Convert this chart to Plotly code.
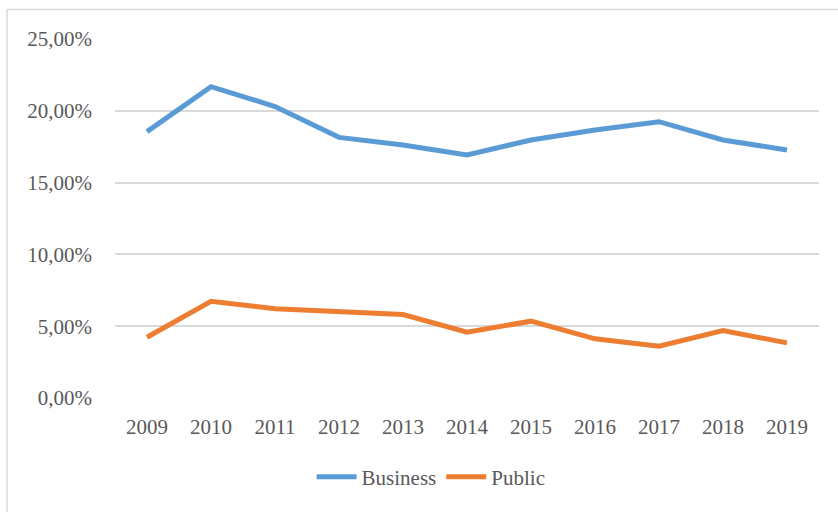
import plotly.graph_objects as go

years = ["2009", "2010", "2011", "2012", "2013", "2014", "2015", "2016", "2017", "2018", "2019"]
business = [18.55, 21.68, 20.30, 18.15, 17.62, 16.92, 17.97, 18.66, 19.24, 17.97, 17.27]
public = [4.23, 6.74, 6.21, 5.97, 5.81, 4.58, 5.35, 4.12, 3.61, 4.70, 3.84]
y_ticks = [0, 5, 10, 15, 20, 25]
y_tick_labels = ["0,00%", "5,00%", "10,00%", "15,00%", "20,00%", "25,00%"]

FONT = "Liberation Serif"
TXT = "#595959"
GRID = "#d9d9d9"

fig = go.Figure()
fig.add_trace(go.Scatter(x=years, y=business, name="Business", mode="lines",
                         line=dict(color="#5B9BD5", width=5)))
fig.add_trace(go.Scatter(x=years, y=public, name="Public", mode="lines",
                         line=dict(color="#ED7D31", width=5)))

fig.update_layout(
    width=838, height=512,
    margin=dict(l=115, r=19, t=39, b=114),
    paper_bgcolor="white", plot_bgcolor="white",
    font=dict(family=FONT, size=21, color=TXT),
    showlegend=True,
    legend=dict(orientation="h", x=0.449, xanchor="center", y=-0.22, yanchor="middle",
                font=dict(family=FONT, size=21, color=TXT), itemwidth=40,
                tracegroupgap=0),
    xaxis=dict(type="category", range=[-0.5, 10.5], showgrid=False, zeroline=False,
               showline=False, ticks="", ticklabelstandoff=14,
               tickfont=dict(family=FONT, size=21, color=TXT)),
    yaxis=dict(range=[0, 25], tickvals=y_ticks, ticktext=y_tick_labels,
               showgrid=True, gridcolor=GRID, gridwidth=1.5, zeroline=False,
               showline=False, ticks="", ticklabelstandoff=22,
               tickfont=dict(family=FONT, size=21, color=TXT)),
    shapes=[
        dict(type="line", xref="paper", yref="paper", x0=-0.1534, x1=1.1, y0=1.082, y1=1.082,
             line=dict(color=GRID, width=1.5)),
        dict(type="line", xref="paper", yref="paper", x0=-0.1534, x1=-0.1534, y0=1.082, y1=-0.35,
             line=dict(color=GRID, width=1.5)),
    ],
)

fig.write_html("out.html", config={"displayModeBar": False},
               post_script="document.body.style.margin='0';")
